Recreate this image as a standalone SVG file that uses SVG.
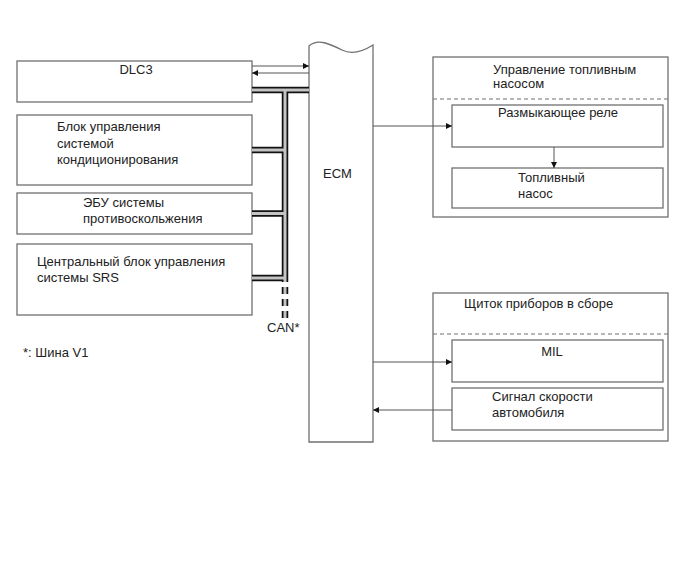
<svg xmlns="http://www.w3.org/2000/svg" width="689" height="562" viewBox="0 0 689 562">
<style>
.box{fill:#fff;stroke:#707070;stroke-width:1.3}
.dash{stroke:#707070;stroke-width:1.2;stroke-dasharray:4 3;fill:none}
.ln{stroke:#555;stroke-width:1;fill:none}
.busb{stroke:#111;stroke-width:6.5;fill:none}
.busg{stroke:#c4c4c4;stroke-width:3;fill:none}
text{font-family:"Liberation Sans",Arial,sans-serif;font-size:13px;fill:#222}
</style>
<defs>
<marker id="ah" viewBox="0 0 10 10" refX="10" refY="5" markerWidth="10" markerHeight="6" markerUnits="userSpaceOnUse" orient="auto">
<path d="M0,0 L10,5 L0,10 z" fill="#111"/>
</marker>
</defs>
<rect width="689" height="562" fill="#fff"/>

<g id="dlc3">
<rect class="box" x="17" y="61" width="235" height="41"/>
<text x="136" y="74" text-anchor="middle">DLC3</text>
</g>
<g id="ac">
<rect class="box" x="17" y="115" width="235" height="70"/>
<text x="57" y="131">Блок управления</text>
<text x="57" y="147.5">системой</text>
<text x="57" y="164">кондиционирования</text>
</g>
<g id="abs">
<rect class="box" x="17" y="193" width="235" height="41"/>
<text x="83" y="207">ЭБУ системы</text>
<text x="83" y="223">противоскольжения</text>
</g>
<g id="srs">
<rect class="box" x="17" y="244" width="235" height="71"/>
<text x="37" y="266">Центральный блок управления</text>
<text x="37" y="282">системы SRS</text>
</g>
<g id="can">
<text x="267" y="332">CAN*</text>
</g>
<g id="note">
<text x="23" y="357">*: Шина V1</text>
</g>

<g id="ecm">
<path class="box" d="M309,442 V46 C318,38 330,44 342,50 C352,55 362,52 373,45 V442 Z"/>
<text x="323" y="178">ECM</text>
</g>

<g id="fuelpump">
<rect class="box" x="433" y="57" width="235" height="160"/>
<line class="dash" x1="433" y1="99" x2="668" y2="99"/>
<text x="493" y="74">Управление топливным</text>
<text x="493" y="88">насосом</text>
</g>
<g id="relay">
<rect class="box" x="452" y="105" width="211" height="42"/>
<text x="558" y="117" text-anchor="middle">Размыкающее реле</text>
</g>
<g id="pump">
<rect class="box" x="452" y="168" width="211" height="40"/>
<text x="518" y="182">Топливный</text>
<text x="518" y="198">насос</text>
</g>

<g id="cluster">
<rect class="box" x="433" y="293" width="235" height="148"/>
<line class="dash" x1="433" y1="334" x2="668" y2="334"/>
<text x="464" y="308">Щиток приборов в сборе</text>
</g>
<g id="mil">
<rect class="box" x="452" y="340" width="211" height="42"/>
<text x="552" y="356" text-anchor="middle">MIL</text>
</g>
<g id="speed">
<rect class="box" x="452" y="388" width="211" height="42"/>
<text x="492" y="401">Сигнал скорости</text>
<text x="492" y="417">автомобиля</text>
</g>

<g id="connectors">
<path class="busb" d="M252,90 H309 M285,90 V282 M252,150 H285 M252,213.5 H285 M252,278 H285"/>
<path class="busg" d="M252,90 H309 M285,90 V282 M252,150 H285 M252,213.5 H285 M252,278 H285"/>
<path class="busb" d="M285,287 V318" stroke-dasharray="7 5"/>
<path class="busg" d="M285,287 V318" stroke-dasharray="7 5"/>
<line class="ln" x1="252" y1="66" x2="309" y2="66" marker-end="url(#ah)"/>
<line class="ln" x1="309" y1="73" x2="252" y2="73" marker-end="url(#ah)"/>
<line class="ln" x1="373" y1="126" x2="452" y2="126" marker-end="url(#ah)"/>
<line class="ln" x1="554" y1="147" x2="554" y2="168" marker-end="url(#ah)"/>
<line class="ln" x1="373" y1="362" x2="452" y2="362" marker-end="url(#ah)"/>
<line class="ln" x1="452" y1="410" x2="373" y2="410" marker-end="url(#ah)"/>
</g>
</svg>
